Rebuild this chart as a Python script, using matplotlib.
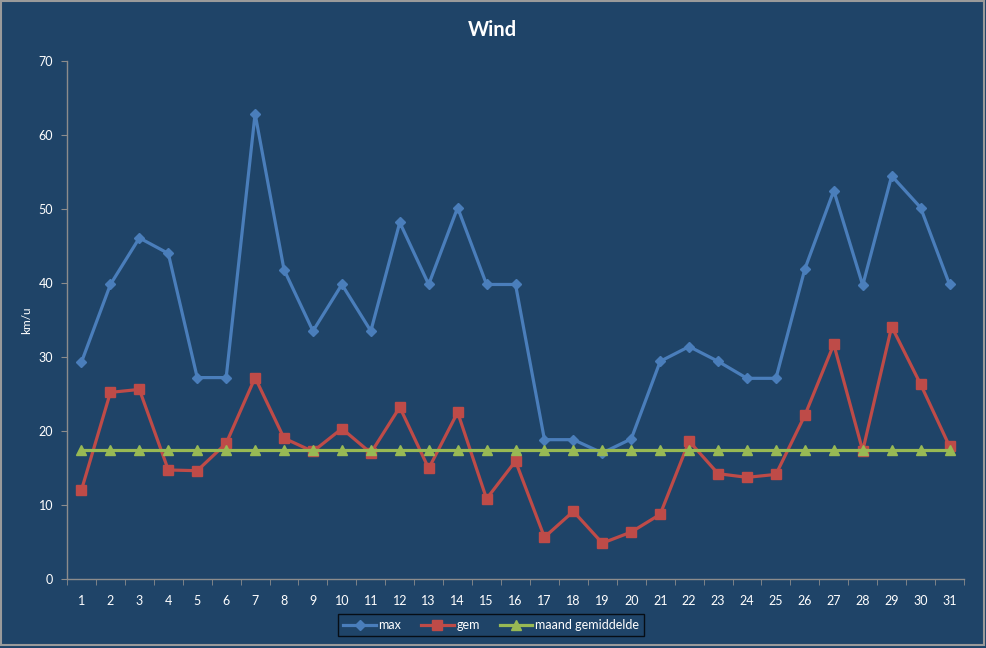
import numpy as np
import matplotlib
matplotlib.use("Agg")
import matplotlib.pyplot as plt
from matplotlib.patches import Rectangle
from matplotlib.ticker import FixedLocator, MultipleLocator

# day of the month
days = list(range(1, 32))
day_labels = [str(d) for d in days]

max_wind = [29.3, 39.8, 46.1, 44.0, 27.2, 27.2, 62.9, 41.8, 33.5, 39.8,
            33.5, 48.2, 39.8, 50.2, 39.8, 39.8, 18.8, 18.8, 17.0, 18.9,
            29.4, 31.4, 29.4, 27.1, 27.1, 41.9, 52.5, 39.7, 54.5, 50.2, 39.8]
gem_wind = [12.0, 25.2, 25.6, 14.7, 14.6, 18.3, 27.2, 19.0, 17.2, 20.3,
            17.0, 23.2, 14.9, 22.5, 10.8, 15.9, 5.6, 9.1, 4.8, 6.3,
            8.7, 18.6, 14.2, 13.7, 14.1, 22.1, 31.7, 17.3, 34.1, 26.3, 17.9]
maand_gem = [17.4] * 31

bg = "#1f4468"
axis_col = "#8c8c8c"
plt.rcParams["font.family"] = ["Lato", "DejaVu Sans"]

fig = plt.figure(figsize=(9.87, 6.48), dpi=100, facecolor=bg)
ax = fig.add_axes([0.0679, 0.1071, 0.9088, 0.7983], facecolor=bg)

ax.plot(days, max_wind, color="#4a7ebb", lw=2.3, marker="D", ms=5,
        label="max", zorder=3)
ax.plot(days, gem_wind, color="#be4b48", lw=2.3, marker="s", ms=7,
        label="gem", zorder=4)
ax.plot(days, maand_gem, color="#98b954", lw=2.3, marker="^", ms=7,
        label="maand gemiddelde", zorder=5)

ax.set_xlim(0.5, 31.5)
ax.set_ylim(0, 70)
ax.yaxis.set_major_locator(MultipleLocator(10))
ax.set_xticks(days)
ax.set_xticklabels(day_labels)
ax.xaxis.set_minor_locator(FixedLocator(np.arange(0.5, 32, 1)))
ax.tick_params(axis="x", which="major", length=0, pad=12, colors="white",
               labelsize=9)
ax.tick_params(axis="x", which="minor", length=4, color=axis_col)
ax.tick_params(axis="y", length=4, color=axis_col, colors="white",
               labelsize=9, pad=6)
for s in ["top", "right"]:
    ax.spines[s].set_visible(False)
for s in ["left", "bottom"]:
    ax.spines[s].set_color(axis_col)
    ax.spines[s].set_linewidth(1)

ax.set_ylabel("km/u", color="white", fontsize=8.5)
ax.yaxis.set_label_coords(-0.039, 0.5)
fig.text(0.4985, 0.953, "Wind", color="white", fontsize=14.5,
         fontweight="bold", ha="center", va="center")

leg = fig.legend(loc="center", bbox_to_anchor=(0.4975, 0.0355), ncol=3,
                 frameon=True, fontsize=9, handlelength=2.6,
                 columnspacing=1.6, borderpad=0.4, handletextpad=0.2)
leg.get_frame().set_facecolor(bg)
leg.get_frame().set_edgecolor("black")
leg.get_frame().set_linewidth(1)
leg.get_frame().set_boxstyle("square", pad=0)
for t in leg.get_texts():
    t.set_color("white")

fig.patches.append(Rectangle((0.001, 0.004), 0.996, 0.994,
                             transform=fig.transFigure, fill=False,
                             edgecolor="#9a9a9a", lw=1.5))

fig.savefig("out.png", dpi=100, facecolor=bg)
